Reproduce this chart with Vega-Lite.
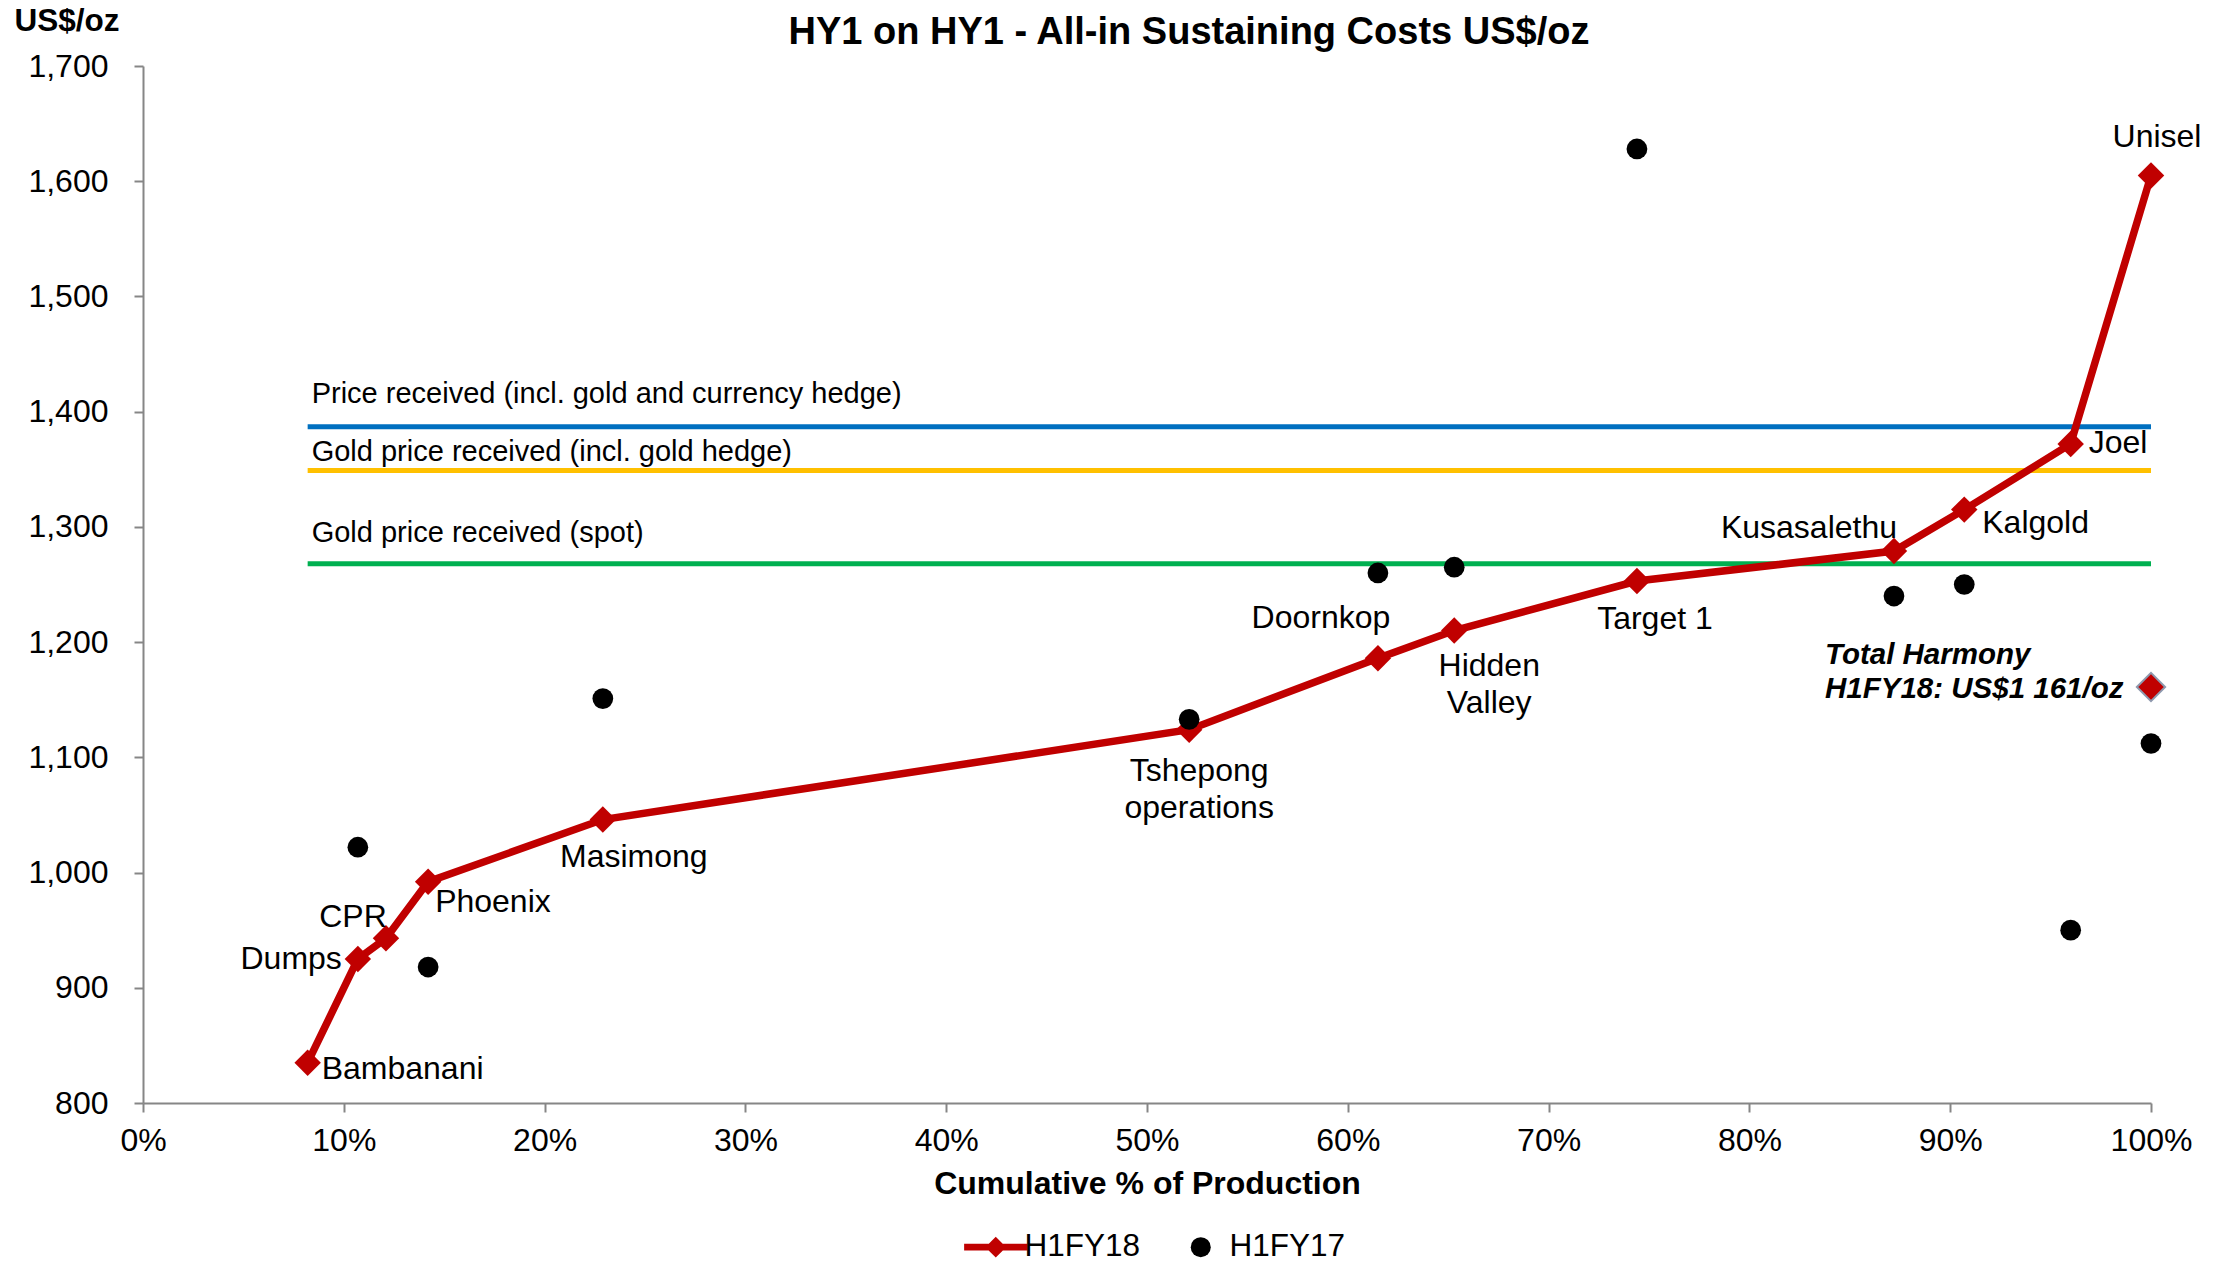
{
  "$schema": "https://vega.github.io/schema/vega-lite/v6.json",
  "width": 2008,
  "height": 1037,
  "autosize": {"type": "none"},
  "padding": {"left": 143, "top": 66, "right": 73, "bottom": 159},
  "config": {
    "font": "Liberation Sans",
    "view": {"stroke": null},
    "axis": {
      "grid": false,
      "domainColor": "#868686",
      "domainWidth": 2,
      "tickColor": "#868686",
      "tickWidth": 2,
      "tickSize": 9,
      "labelColor": "#000000",
      "labelFontSize": 32,
      "titleColor": "#000000"
    },
    "text": {"font": "Liberation Sans", "fontSize": 32, "color": "#000000"}
  },
  "title": {
    "text": "HY1 on HY1 - All-in Sustaining Costs US$/oz",
    "fontSize": 38,
    "fontWeight": "bold",
    "color": "#000000",
    "anchor": "middle",
    "dx": 42,
    "dy": 47,
    "offset": 0
  },
  "datasets": {
    "costs": [
      {"site": "Bambanani", "pct": 8.2, "period": "H1FY18", "cost": 835},
      {"site": "Dumps", "pct": 10.7, "period": "H1FY18", "cost": 925},
      {"site": "CPR", "pct": 12.1, "period": "H1FY18", "cost": 943},
      {"site": "Phoenix", "pct": 14.2, "period": "H1FY18", "cost": 992},
      {"site": "Masimong", "pct": 22.9, "period": "H1FY18", "cost": 1046},
      {"site": "Tshepong operations", "pct": 52.1, "period": "H1FY18", "cost": 1124},
      {"site": "Doornkop", "pct": 61.5, "period": "H1FY18", "cost": 1186},
      {"site": "Hidden Valley", "pct": 65.3, "period": "H1FY18", "cost": 1210},
      {"site": "Target 1", "pct": 74.4, "period": "H1FY18", "cost": 1253},
      {"site": "Kusasalethu", "pct": 87.2, "period": "H1FY18", "cost": 1279},
      {"site": "Kalgold", "pct": 90.7, "period": "H1FY18", "cost": 1315},
      {"site": "Joel", "pct": 96.0, "period": "H1FY18", "cost": 1372},
      {"site": "Unisel", "pct": 100, "period": "H1FY18", "cost": 1605},
      {"site": "Dumps", "pct": 10.7, "period": "H1FY17", "cost": 1022},
      {"site": "Phoenix", "pct": 14.2, "period": "H1FY17", "cost": 918},
      {"site": "Masimong", "pct": 22.9, "period": "H1FY17", "cost": 1151},
      {"site": "Tshepong operations", "pct": 52.1, "period": "H1FY17", "cost": 1133},
      {"site": "Doornkop", "pct": 61.5, "period": "H1FY17", "cost": 1260},
      {"site": "Hidden Valley", "pct": 65.3, "period": "H1FY17", "cost": 1265},
      {"site": "Target 1", "pct": 74.4, "period": "H1FY17", "cost": 1628},
      {"site": "Kusasalethu", "pct": 87.2, "period": "H1FY17", "cost": 1240},
      {"site": "Kalgold", "pct": 90.7, "period": "H1FY17", "cost": 1250},
      {"site": "Joel", "pct": 96.0, "period": "H1FY17", "cost": 950},
      {"site": "Unisel", "pct": 100, "period": "H1FY17", "cost": 1112}
    ],
    "prices": [
      {"name": "Price received (incl. gold and currency hedge)", "pct": 8.2, "pct2": 100, "cost": 1387},
      {"name": "Gold price received (incl. gold hedge)", "pct": 8.2, "pct2": 100, "cost": 1349},
      {"name": "Gold price received (spot)", "pct": 8.2, "pct2": 100, "cost": 1268}
    ],
    "total": [
      {"name": "Total Harmony", "pct": 100, "cost": 1161, "label": "Total Harmony|H1FY18: US$1 161/oz"}
    ]
  },
  "encoding": {
    "x": {
      "field": "pct",
      "type": "quantitative",
      "scale": {"domain": [0, 100], "nice": false, "zero": false},
      "axis": {
        "values": [0, 10, 20, 30, 40, 50, 60, 70, 80, 90, 100],
        "labelExpr": "datum.value + '%'",
        "labelFlush": false,
        "labelPadding": 13,
        "title": "Cumulative % of Production",
        "titleFontSize": 32,
        "titleFontWeight": "bold",
        "titlePadding": 12
      }
    },
    "y": {
      "field": "cost",
      "type": "quantitative",
      "scale": {"domain": [800, 1700], "nice": false, "zero": false},
      "axis": {
        "values": [800, 900, 1000, 1100, 1200, 1300, 1400, 1500, 1600, 1700],
        "format": ",d",
        "labelFlush": false,
        "labelPadding": 26,
        "title": "US$/oz",
        "titleAngle": 0,
        "titleAlign": "left",
        "titleBaseline": "middle",
        "titleX": -129,
        "titleY": -45,
        "titleFontSize": 31.5,
        "titleFontWeight": "bold"
      }
    }
  },
  "layer": [
    {
      "data": {"name": "prices"},
      "layer": [
        {
          "mark": {"type": "rule", "strokeWidth": 5},
          "encoding": {
            "x2": {"field": "pct2"},
            "stroke": {
              "field": "name",
              "type": "nominal",
              "scale": {
                "domain": ["Price received (incl. gold and currency hedge)", "Gold price received (incl. gold hedge)", "Gold price received (spot)"],
                "range": ["#0070C0", "#FFC000", "#00B050"]
              },
              "legend": null
            }
          }
        },
        {
          "transform": [{"filter": "datum.name === 'Price received (incl. gold and currency hedge)'"}],
          "mark": {"type": "text", "align": "left", "baseline": "middle", "dx": 4, "dy": -33, "fontSize": 29},
          "encoding": {"text": {"field": "name"}}
        },
        {
          "transform": [{"filter": "datum.name === 'Gold price received (incl. gold hedge)'"}],
          "mark": {"type": "text", "align": "left", "baseline": "middle", "dx": 4, "dy": -18, "fontSize": 29},
          "encoding": {"text": {"field": "name"}}
        },
        {
          "transform": [{"filter": "datum.name === 'Gold price received (spot)'"}],
          "mark": {"type": "text", "align": "left", "baseline": "middle", "dx": 4, "dy": -31, "fontSize": 29},
          "encoding": {"text": {"field": "name"}}
        }
      ]
    },
    {
      "data": {"name": "costs"},
      "transform": [{"filter": "datum.period === 'H1FY18'"}],
      "mark": {"type": "line", "strokeWidth": 7.5},
      "encoding": {
        "color": {
          "field": "period",
          "type": "nominal",
          "scale": {"domain": ["H1FY18", "H1FY17"], "range": ["#C00000", "#000000"]},
          "legend": {
            "title": null,
            "orient": "none",
            "legendX": 837,
            "legendY": 1165,
            "direction": "horizontal",
            "labelFontSize": 31.5,
            "labelColor": "#000000",
            "labelOffset": 13,
            "columnPadding": 44,
            "symbolSize": 4000,
            "symbolStrokeWidth": 0,
            "encode": {
              "symbols": {
                "update": {
                  "shape": {"signal": "datum.value === 'H1FY18' ? 'M-1,-0.11H1V0.11H-1Z M0,-0.33L0.33,0L0,0.33L-0.33,0Z' : 'circle'"},
                  "size": {"signal": "datum.value === 'H1FY18' ? 4000 : 400"},
                  "fill": {"signal": "datum.value === 'H1FY18' ? '#C00000' : '#000000'"},
                  "stroke": {"value": "transparent"},
                  "opacity": {"value": 1}
                }
              }
            }
          }
        }
      }
    },
    {
      "data": {"name": "costs"},
      "transform": [{"filter": "datum.period === 'H1FY18'"}],
      "mark": {"type": "point", "shape": "diamond", "filled": true, "size": 700, "opacity": 1},
      "encoding": {"color": {"field": "period", "type": "nominal"}}
    },
    {
      "data": {"name": "costs"},
      "transform": [{"filter": "datum.period === 'H1FY17'"}],
      "mark": {"type": "point", "shape": "circle", "filled": true, "size": 430, "opacity": 1},
      "encoding": {"color": {"field": "period", "type": "nominal"}}
    },
    {
      "data": {"name": "total"},
      "layer": [
        {
          "mark": {"type": "point", "shape": "diamond", "filled": true, "size": 800, "opacity": 1, "fill": "#C00000", "stroke": "#8E99AE", "strokeWidth": 2}
        },
        {
          "mark": {"type": "text", "align": "left", "baseline": "top", "dx": -326, "dy": -46, "fontSize": 29.5, "fontWeight": "bold", "fontStyle": "italic", "lineBreak": "|", "lineHeight": 34},
          "encoding": {"text": {"field": "label"}}
        }
      ]
    },
    {
      "data": {"name": "costs"},
      "transform": [{"filter": "datum.period === 'H1FY18'"}],
      "encoding": {"text": {"field": "site"}},
      "layer": [
        {"transform": [{"filter": "datum.site === 'Bambanani'"}], "mark": {"type": "text", "align": "left", "baseline": "middle", "dx": 14, "dy": 6}},
        {"transform": [{"filter": "datum.site === 'Dumps'"}], "mark": {"type": "text", "align": "right", "baseline": "middle", "dx": -16, "dy": 0}},
        {"transform": [{"filter": "datum.site === 'CPR'"}], "mark": {"type": "text", "align": "center", "baseline": "middle", "dx": -33, "dy": -21}},
        {"transform": [{"filter": "datum.site === 'Phoenix'"}], "mark": {"type": "text", "align": "left", "baseline": "middle", "dx": 7, "dy": 20}},
        {"transform": [{"filter": "datum.site === 'Masimong'"}], "mark": {"type": "text", "align": "center", "baseline": "middle", "dx": 31, "dy": 37}},
        {"transform": [{"filter": "datum.site === 'Tshepong operations'"}], "mark": {"type": "text", "align": "center", "baseline": "top", "dx": 10, "dy": 26, "lineBreak": " ", "lineHeight": 37}},
        {"transform": [{"filter": "datum.site === 'Doornkop'"}], "mark": {"type": "text", "align": "center", "baseline": "middle", "dx": -57, "dy": -40}},
        {"transform": [{"filter": "datum.site === 'Hidden Valley'"}], "mark": {"type": "text", "align": "center", "baseline": "top", "dx": 35, "dy": 20, "lineBreak": " ", "lineHeight": 37}},
        {"transform": [{"filter": "datum.site === 'Target 1'"}], "mark": {"type": "text", "align": "center", "baseline": "middle", "dx": 18, "dy": 38}},
        {"transform": [{"filter": "datum.site === 'Kusasalethu'"}], "mark": {"type": "text", "align": "center", "baseline": "middle", "dx": -85, "dy": -23}},
        {"transform": [{"filter": "datum.site === 'Kalgold'"}], "mark": {"type": "text", "align": "left", "baseline": "middle", "dx": 18, "dy": 13}},
        {"transform": [{"filter": "datum.site === 'Joel'"}], "mark": {"type": "text", "align": "left", "baseline": "middle", "dx": 18, "dy": -1}},
        {"transform": [{"filter": "datum.site === 'Unisel'"}], "mark": {"type": "text", "align": "center", "baseline": "middle", "dx": 6, "dy": -38}}
      ]
    }
  ]
}
